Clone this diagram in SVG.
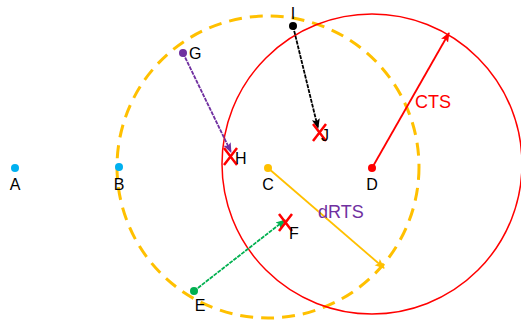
<svg xmlns="http://www.w3.org/2000/svg" width="521" height="321" viewBox="0 0 521 321">
<style>
text{font-family:"Liberation Sans",Arial,sans-serif;font-size:16px;fill:#000}
.big{font-size:18px}
.x{stroke:#FF0000;stroke-width:2.5;fill:none}
</style>
<defs>
<marker id="mr" viewBox="0 0 10 10" refX="9" refY="5" markerWidth="10" markerHeight="10" orient="auto" markerUnits="userSpaceOnUse"><path d="M0,1 L10,5 L0,9 L2,5 z" fill="#FF0000"/></marker>
<marker id="my" viewBox="0 0 10 10" refX="9" refY="5" markerWidth="10" markerHeight="10" orient="auto" markerUnits="userSpaceOnUse"><path d="M0,1 L10,5 L0,9 L2,5 z" fill="#FFC000"/></marker>
<marker id="mp" viewBox="0 0 10 10" refX="9" refY="5" markerWidth="10" markerHeight="10" orient="auto" markerUnits="userSpaceOnUse"><path d="M0,1 L10,5 L0,9 L2,5 z" fill="#7030A0"/></marker>
<marker id="mg" viewBox="0 0 10 10" refX="9" refY="5" markerWidth="10" markerHeight="10" orient="auto" markerUnits="userSpaceOnUse"><path d="M0,1 L10,5 L0,9 L2,5 z" fill="#00B050"/></marker>
<marker id="mb" viewBox="0 0 10 10" refX="9" refY="5" markerWidth="10" markerHeight="10" orient="auto" markerUnits="userSpaceOnUse"><path d="M0,1 L10,5 L0,9 L2,5 z" fill="#000"/></marker>
</defs>
<g id="circles">
<circle id="rts" cx="268" cy="167" r="151" fill="none" stroke="#FFC000" stroke-width="3" stroke-dasharray="13,8"/>
<circle id="cts" cx="372" cy="164" r="150" fill="none" stroke="#FF0000" stroke-width="1.5"/>
</g>
<g id="connectors" fill="none" stroke-width="1.8">
<line x1="372" y1="168" x2="449" y2="33" stroke="#FF0000" marker-end="url(#mr)"/>
<line x1="268" y1="168" x2="384" y2="268" stroke="#FFC000" marker-end="url(#my)"/>
<line x1="183" y1="53" x2="231" y2="152" stroke="#7030A0" stroke-dasharray="4,1" marker-end="url(#mp)"/>
<line x1="293" y1="26" x2="318" y2="128" stroke="#000" stroke-dasharray="4,1" marker-end="url(#mb)"/>
<line x1="194" y1="291" x2="285" y2="220" stroke="#00B050" stroke-dasharray="4,1" marker-end="url(#mg)"/>
</g>
<g id="nodeA"><circle cx="15" cy="168" r="4" fill="#00B0F0"/><text x="15" y="190" text-anchor="middle">A</text></g>
<g id="nodeB"><circle cx="119" cy="167" r="4" fill="#00B0F0"/><text x="119" y="190" text-anchor="middle">B</text></g>
<g id="nodeC"><circle cx="268" cy="168" r="4" fill="#FFC000"/><text x="268" y="190" text-anchor="middle">C</text></g>
<g id="nodeD"><circle cx="372" cy="168" r="4" fill="#FF0000"/><text x="372" y="190" text-anchor="middle">D</text></g>
<g id="nodeG"><circle cx="183" cy="53" r="4" fill="#7030A0"/><text x="189" y="59">G</text></g>
<g id="nodeI"><circle cx="293" cy="26" r="4" fill="#000"/><text x="293" y="19" text-anchor="middle">I</text></g>
<g id="nodeE"><circle cx="194" cy="291" r="4" fill="#00B050"/><text x="200" y="311" text-anchor="middle">E</text></g>
<g id="nodeH"><path class="x" d="M224,148 L237,165 M237,148 L224,165"/><text x="235" y="164">H</text></g>
<g id="nodeJ"><path class="x" d="M313,124 L326,141 M326,124 L313,141"/><text x="321" y="141">J</text></g>
<g id="nodeF"><path class="x" d="M279,214 L292,231 M292,214 L279,231"/><text x="289" y="239">F</text></g>
<text class="big" x="415" y="108" style="fill:#FF0000">CTS</text>
<text class="big" x="318" y="218" style="fill:#7030A0">dRTS</text>
</svg>
